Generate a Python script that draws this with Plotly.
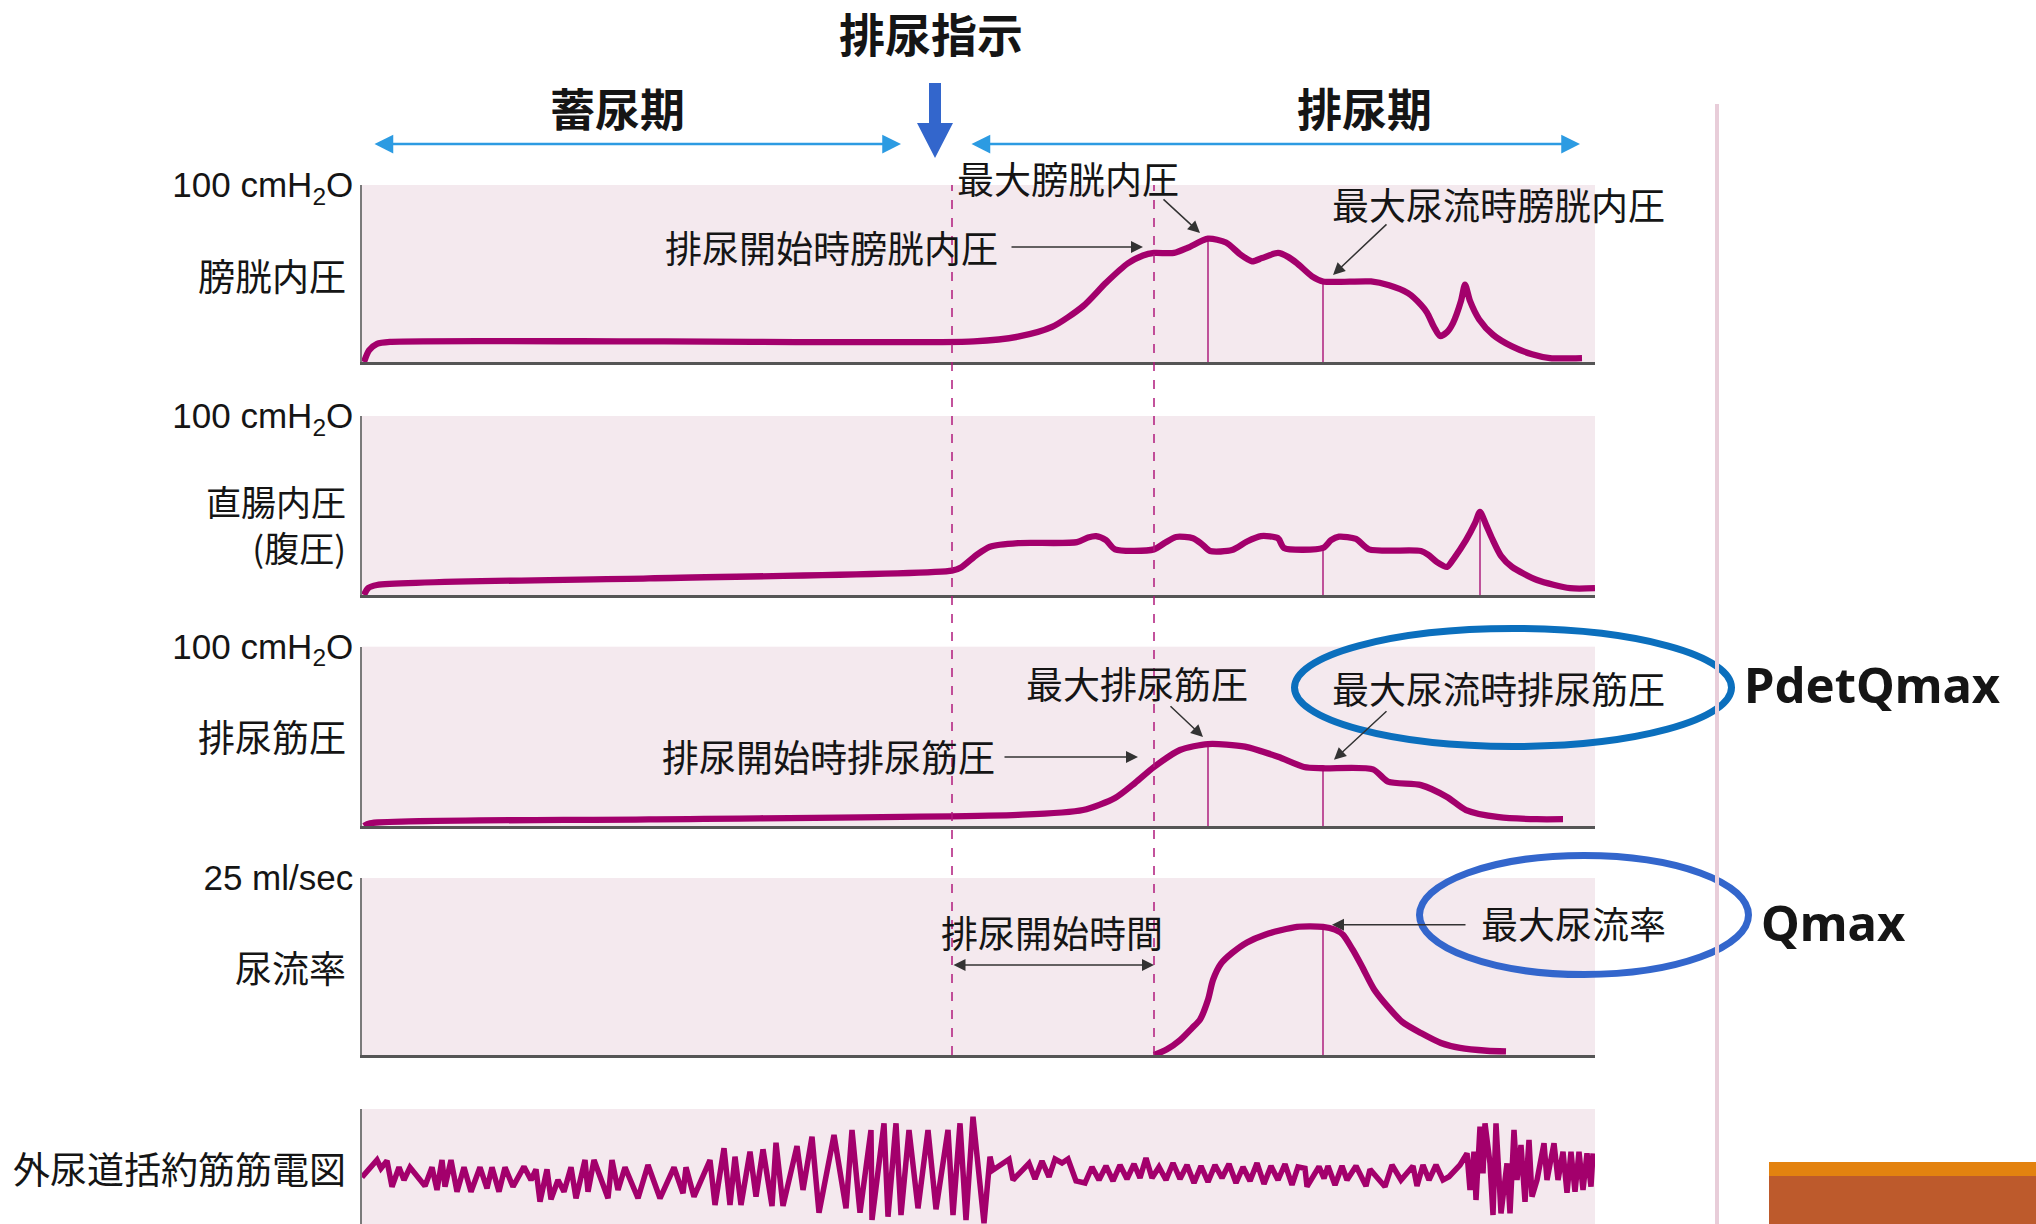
import numpy as np
import plotly.graph_objects as go

W, H = 2036, 1224

# ---------------- data (time in s, shared axis) ----------------
T_MAX = 123.3
T_CMD = 59.0        # 排尿指示 / 排尿開始時間 start
T_FLOW = 79.2       # flow onset
T_PMAX = 84.6       # maximum pressure
T_QMAX = 96.1       # maximum flow
T_STRAIN = 111.8    # abdominal straining peak

# 膀胱内圧 (cmH2O)
pves_t = [0.2, 0.7, 1.5, 2.8, 30.0, 61.2, 65.6, 69.0, 72.1, 74.4, 76.6, 78.1, 79.2, 81.2, 82.6,
          84.6, 86.4, 87.8, 89.0, 90.0, 91.6, 92.6, 93.5, 95.0, 96.1, 100.9, 102.7, 104.6,
          105.9, 106.5, 107.2, 107.8, 108.5, 109.1, 109.9, 110.3, 110.8, 111.7, 113.1, 115.0,
          117.0, 118.8, 122.0]
pves_v = [0, 6.6, 10.3, 11.4, 11.6, 11.7, 14.3, 19.8, 31.5, 44.8, 55.8, 60.2, 61.6, 61.6, 64.6,
          69.7, 67.5, 60.9, 56.9, 58.7, 61.6, 59.4, 55.8, 48.4, 45.5, 45.5, 43.3, 38.9,
          32.3, 27.9, 19.8, 14.7, 16.9, 22.0, 34.5, 43.7, 34.5, 24.2, 15.4, 8.8,
          4.4, 2.2, 2.2]

# 直腸内圧（腹圧） (cmH2O)
pabd_t = [0.2, 0.6, 1.5, 28.7, 59.0, 59.9, 61.5, 62.8, 65.6, 71.5, 72.6, 73.4, 74.4, 75.3, 79.2,
          80.3, 81.4, 83.1, 84.0, 84.8, 87.0, 88.5, 89.9, 91.6, 92.2, 96.1, 96.9, 97.7, 99.4,
          100.7, 105.9, 106.6, 107.5, 108.5, 109.2, 110.4, 111.3, 111.8, 112.4, 113.0, 113.9,
          115.0, 117.5, 120.8, 123.3]
pabd_v = [0, 3.8, 5.6, 9.3, 13.6, 15.4, 22.6, 27.0, 29.0, 29.5, 32.1, 32.9, 30.6, 25.5, 25.5,
          29.2, 32.4, 31.7, 28.4, 24.6, 25.1, 29.9, 32.9, 31.7, 26.3, 26.3, 30.6, 32.6, 31.3,
          25.5, 24.6, 22.6, 18.4, 15.7, 20.5, 30.6, 40.1, 46.4, 39.3, 31.7, 21.9,
          15.7, 8.4, 3.8, 3.8]

# 排尿筋圧 (cmH2O)
pdet_t = [0.2, 0.8, 28.7, 65.6, 72.1, 75.3, 77.3, 79.2, 81.8, 84.6, 88.3, 91.6, 94.2, 96.1,
          101.1, 102.6, 105.9, 108.5, 110.4, 113.7, 117.5, 120.1]
pdet_v = [0, 1.5, 3.7, 6.2, 8.9, 15.6, 24.0, 32.9, 42.4, 45.7, 44.3, 38.6, 32.9, 32.2,
          31.6, 24.7, 22.8, 16.2, 8.9, 4.9, 3.8, 3.8]

# 尿流率 (ml/sec)
flow_t = [79.2, 80.5, 81.8, 83.0, 83.8, 84.6, 85.1, 85.9, 87.0, 88.5, 90.3, 93.5, 96.1, 97.3,
          98.1, 99.1, 100.0, 101.2, 102.6, 104.0, 105.9, 107.9, 109.8, 112.5, 114.4]
flow_v = [0, 0.8, 2.1, 3.8, 5.0, 7.8, 10.6, 12.9, 14.4, 15.9, 17.0, 18.1, 18.1, 17.7,
          17.0, 14.8, 12.5, 9.3, 6.8, 4.7, 3.1, 1.7, 1.0, 0.6, 0.5]

# 外尿道括約筋筋電図 (µV, arbitrary)
emg_t = [0.0, 1.5, 1.9, 2.5, 3.0, 3.7, 4.2, 4.8, 6.3, 7.0, 7.5, 8.0, 8.3, 8.9, 9.5, 10.2, 10.9,
         11.8, 12.5, 13.0, 13.7, 14.3, 15.1, 16.2, 16.9, 17.4, 17.8, 18.5, 18.9, 19.6, 20.2,
         20.9, 21.4, 22.3, 22.6, 23.2, 24.6, 25.0, 25.6, 26.3, 27.6, 28.6, 29.8, 31.2, 32.1,
         32.4, 33.2, 34.8, 35.3, 36.2, 36.8, 37.3, 37.9, 38.8, 39.4, 40.1, 41.0, 41.4, 42.1,
         43.5, 44.1, 45.0, 45.7, 46.4, 47.2, 48.4, 49.0, 49.8, 50.9, 51.0, 52.2, 52.6, 53.4,
         53.9, 54.7, 55.6, 56.6, 57.4, 58.6, 59.1, 59.8, 60.4, 61.1, 62.2, 62.8, 63.1, 64.7,
         65.1, 66.7,
         67.3, 68.0, 68.7, 69.3, 70.0, 70.6, 71.4, 72.3, 73.0, 73.7, 74.4, 75.1, 75.8, 76.5,
         77.2, 77.8, 78.4, 79.0, 79.7, 80.4, 81.1, 81.8, 82.5, 83.2, 83.9, 84.6, 85.3, 86.0,
         86.7, 87.4, 88.1, 88.8, 89.5, 90.2, 90.9, 91.6, 92.3, 93.0, 93.6, 94.3, 94.5, 95.7,
         96.2, 96.6, 97.3, 98.0, 98.5, 99.4, 100.4, 100.8, 102.3, 103.0, 103.9, 105.1, 105.5,
         106.1, 106.7, 107.4, 108.1, 108.7, 109.8,
         110.5, 110.8, 111.2, 111.4, 111.8, 112.1, 112.3, 112.8, 113.1, 113.4, 113.9, 114.5,
         114.8, 115.2, 115.5, 115.9, 116.3, 116.7, 117.0, 117.5, 118.2, 118.5, 119.2, 119.6,
         120.1, 120.5, 120.9, 121.3, 121.7, 122.1, 122.5, 122.9, 123.1]
emg_v = [-2.3, 15, 6.7, 14.3, -11.7, 7.7, -5, 7.7, -11, 7.7, -15, 15, -11.7, 15, -16.7, 7.7, -16.7,
         7.7, -13.3, 7.7, -16.7, 7.7, -11.7, 8.3, -5, 5.7, -26.7, 5.7, -24.3, -5, -16.7,
         7.7, -23.3, 15, -16.7, 15, -23.3, 15, -15, 7.7, -23.3, 10, -23.3, 7.7, -18.3,
         7.7, -21.7, 15, -30, 26.7, -30, 18.3, -30, 23.3, -21.7, 25.7, -31, 32.3, -31,
         29, -15, 38.3, -37.7, -1.3, 40, -33.3, 45, -37.7, 45, -45, 51.7, -41.7, 51.7,
         -40, 45, -33.3, 45, -34.3, 45, -40, 51.7, -45, 58.3, -48.3, 18.3, 5, 15.7,
         -5, 11.7,
         -4, 14, -2, 16, 12, 16, -6, -8, 8, -5, 9, -6, 10, -4,
         11, -3, 17, -3, 8, -5, 12, -4, 10, -8, 9, -7, 10, -3,
         11, -8, 8, -6, 12, -9, 9, -5, 11, -10, 8, 6.7, -11.7, 8.3,
         -3.3, 9, -10, 9, -5, 9, -11, 5.7, -11.7, 10, -5, 9, -11,
         10, -5, 10, -5, -1.7, 10,
         21.7, -15, 23.3, -25, 48.3, 1.7, 51.7, 11.7, -40, 51.7, -38.3, 11.7,
         -38.3, 45, -5, 30, -26.7, 35, -21.7, -5, 31.7, -5, 31.7, -5,
         23.3, -17.7, 23.3, -16.7, 23.3, -15, 21.7, -11.7, 21.7]

# ---------------- styling ----------------
CURVE = "#a3006c"
BG = "#f4e9ee"
AXIS = "#7a7a7a"
CJK = "Noto Sans CJK JP"
LATIN = "Liberation Sans"
TXT = "#151515"


def px(X):
    return X / W


def py(Y):
    return 1 - Y / H


X_DOM = [px(362), px(1595)]
Y_DOM = {
    1: [py(362), py(185)],
    2: [py(595), py(416)],
    3: [py(826), py(646.7)],
    4: [py(1055), py(878)],
    5: [0.0, py(1109)],
}
Y_RANGE = {1: [0, 100], 2: [0, 100], 3: [0, 100], 4: [0, 25], 5: [-49, 66]}
TOP_LABEL = {1: "100 cmH<sub>2</sub>O", 2: "100 cmH<sub>2</sub>O",
             3: "100 cmH<sub>2</sub>O", 4: "25 ml/sec"}

fig = go.Figure()


def ax_ids(i):
    return ("x", "y") if i == 1 else (f"x{i}", f"y{i}")


curves = {1: (pves_t, pves_v), 2: (pabd_t, pabd_v), 3: (pdet_t, pdet_v), 4: (flow_t, flow_v)}
for i, (tt, vv) in curves.items():
    xa, ya = ax_ids(i)
    fig.add_trace(go.Scatter(x=tt, y=vv, mode="lines", xaxis=xa, yaxis=ya,
                             line=dict(color=CURVE, width=6.3, shape="spline", smoothing=0.7),
                             hoverinfo="skip"))

xa, ya = ax_ids(5)
fig.add_trace(go.Scatter(x=emg_t, y=emg_v, mode="lines", xaxis=xa, yaxis=ya,
                         line=dict(color=CURVE, width=5.5), hoverinfo="skip"))

# thin drop lines at the characteristic events
markers = {1: [T_PMAX, T_QMAX], 2: [T_QMAX, T_STRAIN], 3: [T_PMAX, T_QMAX], 4: [T_QMAX]}
for i, times in markers.items():
    xa, ya = ax_ids(i)
    tt, vv = curves[i]
    for t in times:
        top = float(np.interp(t, tt, vv))
        fig.add_trace(go.Scatter(x=[t, t], y=[0, top], mode="lines", xaxis=xa, yaxis=ya,
                                 line=dict(color=CURVE, width=1.3), hoverinfo="skip"))

layout = dict(
    width=W, height=H, margin=dict(l=0, r=0, t=0, b=0, autoexpand=False),
    paper_bgcolor="white", plot_bgcolor=BG, showlegend=False,
)
for i in range(1, 6):
    xkey = "xaxis" if i == 1 else f"xaxis{i}"
    ykey = "yaxis" if i == 1 else f"yaxis{i}"
    xa, ya = ax_ids(i)
    layout[xkey] = dict(domain=X_DOM, range=[0, T_MAX], anchor=ya, showticklabels=False,
                        showgrid=False, zeroline=False, ticks="", fixedrange=True,
                        automargin=False,
                        showline=(i < 5), linecolor="#555555", linewidth=2.5)
    if i > 1:
        layout[xkey]["matches"] = "x"
    yax = dict(domain=Y_DOM[i], range=Y_RANGE[i], anchor=xa, showgrid=False, zeroline=False,
               showline=True, linecolor=AXIS, linewidth=1.5, fixedrange=True,
               automargin=False)
    if i in TOP_LABEL:
        yax.update(tickmode="array", tickvals=[Y_RANGE[i][1]], ticktext=[TOP_LABEL[i]],
                   ticks="inside", ticklen=13, tickwidth=1.5, tickcolor=AXIS,
                   tickfont=dict(family=LATIN, size=35, color=TXT))
    else:
        yax.update(showticklabels=False, ticks="")
    layout[ykey] = yax
fig.update_layout(**layout)

# ---------------- shapes ----------------
shapes = []
for t in (T_CMD, T_FLOW):
    shapes.append(dict(type="line", xref="x", yref="paper", x0=t, x1=t,
                       y0=Y_DOM[4][0], y1=Y_DOM[1][1],
                       line=dict(color="#b01a7c", width=1.5, dash="dash"), layer="above"))

# voiding command arrow
arrow_path = (f"M {px(929)},{py(83)} L {px(941)},{py(83)} L {px(941)},{py(123)} "
              f"L {px(953)},{py(123)} L {px(935)},{py(158)} L {px(917)},{py(123)} "
              f"L {px(929)},{py(123)} Z")
shapes.append(dict(type="path", xref="paper", yref="paper", path=arrow_path,
                   fillcolor="#3366cc", line=dict(width=0)))

# highlight ellipses
shapes.append(dict(type="circle", xref="paper", yref="paper",
                   x0=px(1294.5), x1=px(1731.5), y0=py(746.5), y1=py(628.5),
                   line=dict(color="#0b6fbd", width=7)))
shapes.append(dict(type="circle", xref="paper", yref="paper",
                   x0=px(1419.5), x1=px(1748.5), y0=py(974.5), y1=py(855.5),
                   line=dict(color="#3366cc", width=7)))

# page divider and corner band
shapes.append(dict(type="line", xref="paper", yref="paper", x0=px(1717), x1=px(1717),
                   y0=py(104), y1=0, line=dict(color="#e8cdd9", width=4)))
shapes.append(dict(type="rect", xref="paper", yref="paper", x0=px(1769), x1=1,
                   y0=py(1176), y1=py(1162), fillcolor="#e3820f", line=dict(width=0)))
shapes.append(dict(type="rect", xref="paper", yref="paper", x0=px(1769), x1=1,
                   y0=0, y1=py(1176), fillcolor="#bd5a2c", line=dict(width=0)))
fig.update_layout(shapes=shapes)

# ---------------- annotations ----------------
ann = []


def text(X, Y, s, anchor="center", size=37, bold=False, family=CJK):
    ann.append(dict(xref="paper", yref="paper", x=px(X), y=py(Y), text=s, showarrow=False,
                    xanchor=anchor, yanchor="middle", align=anchor if anchor != "center" else "center",
                    font=dict(family=family, size=size, color=TXT,
                              weight=700 if bold else 400)))


def pointer(xa, ya, x, y, ax, ay, both=False, color="#333333", width=1.5, size=1.6):
    d = dict(xref=xa, yref=ya, x=x, y=y, ax=ax, ay=ay, text="", showarrow=True,
             arrowhead=2, arrowsize=size, arrowwidth=width, arrowcolor=color, standoff=0)
    if both:
        d.update(arrowside="end+start", startarrowhead=2, startarrowsize=size, startstandoff=0)
    ann.append(d)


# headings
text(931, 32, "排尿指示", size=46, bold=True)
text(617, 107, "蓄尿期", size=45, bold=True)
text(1364, 107, "排尿期", size=45, bold=True)
pointer("paper", "paper", px(901), py(144), -528, 0, both=True, color="#2c9be2", width=2.5, size=1.5)
pointer("paper", "paper", px(1580), py(144), -610, 0, both=True, color="#2c9be2", width=2.5, size=1.5)

# trace labels
text(348, 275, "膀胱内圧", anchor="right")
text(348, 523, "直腸内圧<br>(腹圧)", anchor="right", size=35)
text(348, 736, "排尿筋圧", anchor="right")
text(348, 967, "尿流率", anchor="right")
text(348, 1168, "外尿道括約筋筋電図", anchor="right")

# event labels
text(955, 178, "最大膀胱内圧", anchor="left")
text(1000, 247, "排尿開始時膀胱内圧", anchor="right")
text(1330, 204, "最大尿流時膀胱内圧", anchor="left")
text(1024, 683, "最大排尿筋圧", anchor="left")
text(1330, 688, "最大尿流時排尿筋圧", anchor="left")
text(997, 756, "排尿開始時排尿筋圧", anchor="right")
text(1052, 932, "排尿開始時間")
text(1479, 923, "最大尿流率", anchor="left")
text(1742, 684, "PdetQmax", anchor="left", size=49, bold=True, family="Noto Sans")
text(1759, 922, "Qmax", anchor="left", size=49, bold=True, family="Noto Sans")

pointer("x", "y", 83.8, 72.9, -38, -35)
pointer("x", "y", 78.1, 65.0, -133, 0)
pointer("x", "y", 97.1, 49.2, 55, -52)
pointer("x3", "y3", 84.1, 49.7, -34, -32)
pointer("x3", "y3", 97.2, 36.9, 54, -50)
pointer("x3", "y3", 77.6, 38.5, -135, 0)
pointer("x4", "y4", T_FLOW, 12.7, -(T_FLOW - T_CMD) * 10, 0, both=True)
pointer("x4", "y4", 97.0, 18.4, 135, 0)

fig.update_layout(annotations=ann)

fig.write_html("out.html", config={"displayModeBar": False})
